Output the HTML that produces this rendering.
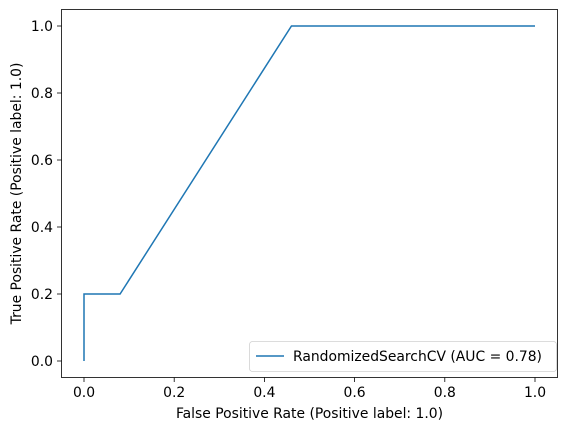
<!DOCTYPE html>
<html><head><meta charset="utf-8"><style>
body{margin:0;background:#fff}
svg{display:block;font-family:"DejaVu Sans","Liberation Sans",sans-serif}
</style></head><body>
<svg id="chart" width="567" height="432" viewBox="0 0 567 432">
<rect width="567" height="432" fill="#fff"/>
<g id="ticks"></g>
<polyline id="curve" fill="none" stroke="#1f77b4" stroke-width="1.5"/>
<rect x="61.5" y="9.5" width="496" height="368" fill="none" stroke="#000" stroke-width="0.8"/>
<text x="309.5" y="418" font-size="13.9" text-anchor="middle">False Positive Rate (Positive label: 1.0)</text>
<text transform="translate(21,193.5) rotate(-90)" font-size="13.9" text-anchor="middle">True Positive Rate (Positive label: 1.0)</text>
<g>
<rect x="249.5" y="341.5" width="307" height="30" rx="3" fill="#fff" stroke="#ccc" stroke-width="0.8" opacity="0.9"/>
<line x1="256" y1="356" x2="284" y2="356" stroke="#1f77b4" stroke-width="1.5"/>
<text x="293" y="361" font-size="13.9">RandomizedSearchCV (AUC = 0.78)</text>
</g>
</svg>
<script>
const fpr = [0, 0, 0.08, 0.46, 1.0];
const tpr = [0, 0.2, 0.2, 1.0, 1.0];
const xTicks = [0, 0.2, 0.4, 0.6, 0.8, 1.0];
const yTicks = [0, 0.2, 0.4, 0.6, 0.8, 1.0];
const xTickLabels = ["0.0","0.2","0.4","0.6","0.8","1.0"];
const yTickLabels = ["0.0","0.2","0.4","0.6","0.8","1.0"];
function sx(v){return 84 + v*451;}
function sy(v){return 361 - v*335;}
const ns="http://www.w3.org/2000/svg";
const curve=document.getElementById('curve');
curve.setAttribute('points', fpr.map((f,i)=>sx(f)+','+sy(tpr[i])).join(' '));
const g=document.getElementById('ticks');
xTicks.forEach((t,i)=>{
  const l=document.createElementNS(ns,'line');
  l.setAttribute('x1',sx(t));l.setAttribute('x2',sx(t));l.setAttribute('y1',377.5);l.setAttribute('y2',382);
  l.setAttribute('stroke','#000');l.setAttribute('stroke-width','0.8');
  
  
  g.appendChild(l);
  const tx=document.createElementNS(ns,'text');
  tx.setAttribute('x',sx(t));tx.setAttribute('y',397);tx.setAttribute('font-size','13.9');tx.setAttribute('text-anchor','middle');
  tx.textContent=xTickLabels[i];
  
  
  g.appendChild(tx);
});
yTicks.forEach((t,i)=>{
  const l=document.createElementNS(ns,'line');
  l.setAttribute('x1',57);l.setAttribute('x2',61.5);l.setAttribute('y1',sy(t));l.setAttribute('y2',sy(t));
  l.setAttribute('stroke','#000');l.setAttribute('stroke-width','0.8');
  
  
  g.appendChild(l);
  const tx=document.createElementNS(ns,'text');
  tx.setAttribute('x',53);tx.setAttribute('y',sy(t)+5);tx.setAttribute('font-size','13.9');tx.setAttribute('text-anchor','end');
  tx.textContent=yTickLabels[i];
  
  
  g.appendChild(tx);
});
</script>
</body></html>
